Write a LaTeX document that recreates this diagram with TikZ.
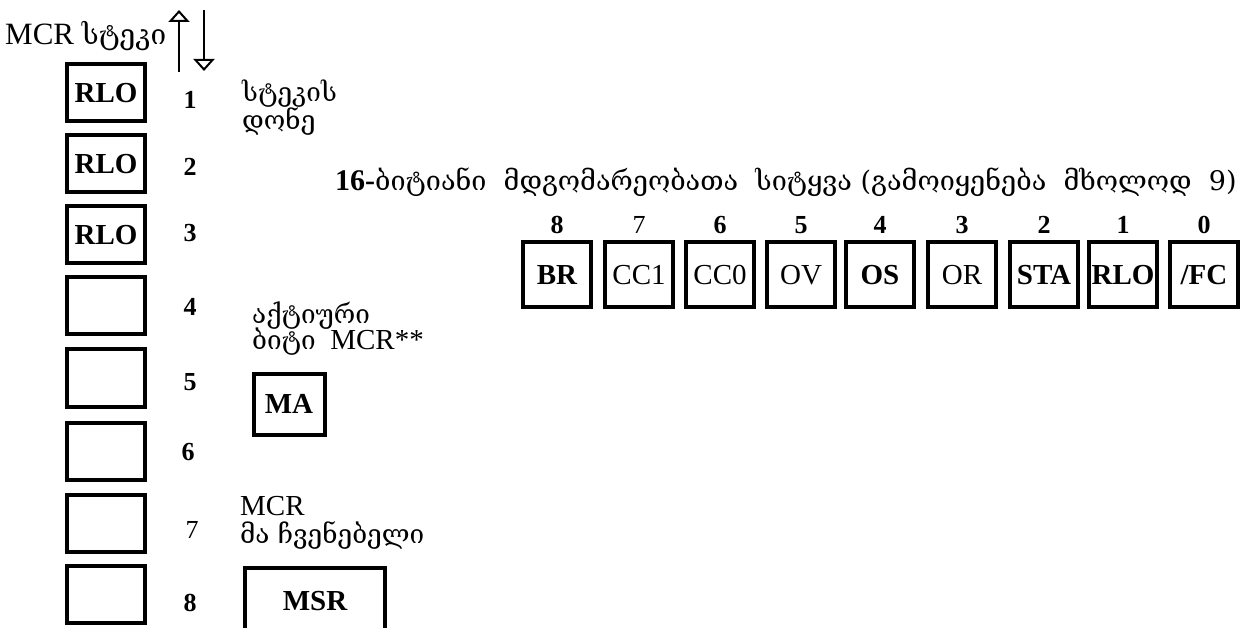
\documentclass[tikz,border=0pt]{standalone}
\usepackage{fontspec}
\setmainfont{Liberation Serif}
\newfontfamily\geo[Scale=0.9]{DejaVu Serif}
\usetikzlibrary{arrows.meta}
\tikzset{
  stk/.style={shape=rectangle,draw=black,line width=4pt,minimum width=78pt,minimum height=57pt,inner sep=0pt,font=\fontsize{29}{29}\selectfont\bfseries},
  bitbox/.style={shape=rectangle,draw=black,line width=4pt,minimum width=68pt,minimum height=65pt,inner sep=0pt,font=\fontsize{29}{29}\selectfont\bfseries},
  num/.style={inner sep=0pt,font=\fontsize{26}{26}\selectfont\bfseries},
  lbl/.style={align=left,anchor=base west,inner sep=0pt,font=\fontsize{29}{24}\selectfont},
  stackarrow/.style={line width=2pt,-{Triangle[open,width=21pt,length=12pt]}},
}
\begin{document}
\begin{tikzpicture}[x=1pt,y=-1pt]
        \clip (0,0) rectangle (1256,628);
        \node[lbl,font=\fontsize{31}{31}\selectfont] (mcrstack) at (5,45) {MCR {\geo სტეკი}};
        \coordinate (upfrom) at (179,72);
        \coordinate (upto) at (179,10);
        \coordinate (downfrom) at (204,10);
        \coordinate (downto) at (204,71);
        \path [stackarrow] (upfrom) edge (upto);
        \path [stackarrow] (downfrom) edge (downto);
        \node[stk] (s1) at (106,93) {RLO};
        \node[stk] (s2) at (106,164) {RLO};
        \node[stk] (s3) at (106,235) {RLO};
        \node[stk] (s4) at (106,306) {};
        \node[stk] (s5) at (106,378) {};
        \node[stk] (s6) at (106,451) {};
        \node[stk] (s7) at (106,523) {};
        \node[stk] (s8) at (106,594) {};
        \node[num] (n1) at (190,100) {1};
        \node[num] (n2) at (190,167) {2};
        \node[num] (n3) at (190,233) {3};
        \node[num] (n4) at (190,307) {4};
        \node[num] (n5) at (190,382) {5};
        \node[num] (n6) at (188,452) {6};
        \node[num] (n7) at (192,530) {\mdseries 7};
        \node[num] (n8) at (190,603) {8};
        \node[lbl] (level) at (242,130) {\geo სტეკის\\\geo დონე};
        \node[lbl,font=\fontsize{30}{30}\selectfont] (title) at (335,191) {\bfseries 16-{\mdseries\geo ბიტიანი\ \ მდგომარეობათა\ \ სიტყვა (გამოიყენება\ \ მხოლოდ\ \ 9)}};
        \node[num] (b8) at (557,225) {8};
        \node[num] (b7) at (639,225) {\mdseries 7};
        \node[num] (b6) at (720,225) {6};
        \node[num] (b5) at (801,225) {5};
        \node[num] (b4) at (880,225) {4};
        \node[num] (b3) at (962,225) {3};
        \node[num] (b2) at (1044,225) {2};
        \node[num] (b1) at (1123,225) {1};
        \node[num] (b0) at (1204,225) {0};
        \node[bitbox] (br) at (557,275) {BR};
        \node[bitbox] (cc1) at (639,275) {\mdseries CC1};
        \node[bitbox] (cc0) at (720,275) {\mdseries CC0};
        \node[bitbox] (ov) at (801,275) {\mdseries OV};
        \node[bitbox] (os) at (880,275) {OS};
        \node[bitbox] (or) at (962,275) {\mdseries OR};
        \node[bitbox] (sta) at (1044,275) {STA};
        \node[bitbox] (rlo) at (1123,275) {RLO};
        \node[bitbox] (fc) at (1204,275) {/FC};
        \node[lbl] (active) at (252,350) {\geo აქტიური\\[-2pt]{\geo ბიტი}\ \ MCR**};
        \node[stk,minimum width=71pt,minimum height=61pt] (ma) at (289,404) {MA};
        \node[lbl] (pointer) at (240,543) {MCR\\[4pt]\geo მა ჩვენებელი};
        \node[stk,minimum width=140pt,minimum height=66pt] (msr) at (315,601) {MSR};
    \end{tikzpicture}
\end{document}
